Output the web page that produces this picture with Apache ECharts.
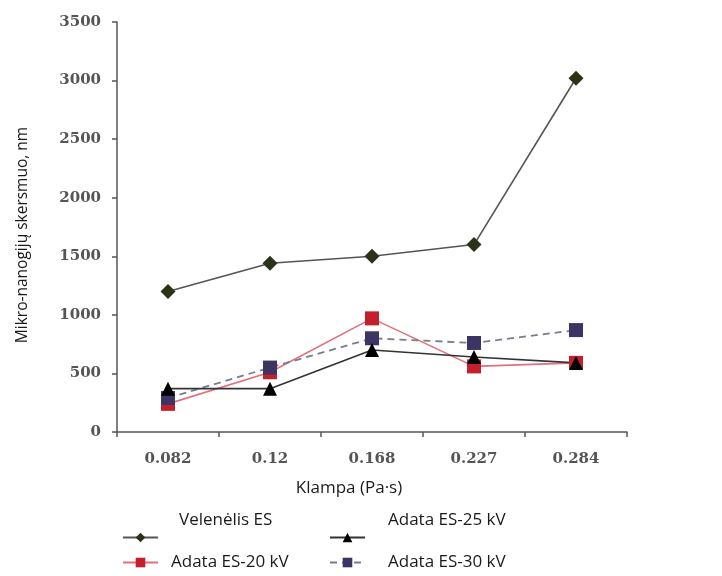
<!DOCTYPE html>
<html>
<head>
<meta charset="utf-8">
<script src="https://cdn.jsdelivr.net/npm/echarts@6/dist/echarts.min.js"></script>
<style>html,body{margin:0;padding:0;background:#fff}#c{width:722px;height:576px}</style>
</head>
<body>
<div id="c"></div>
<script>
const categories = ['0.082', '0.12', '0.168', '0.227', '0.284'];
const velenelis = [1200, 1440, 1500, 1600, 3020];
const adata20 = [240, 510, 970, 560, 590];
const adata25 = [370, 370, 700, 640, 590];
const adata30 = [290, 550, 800, 760, 870];
const yMin = 0, yMax = 3500, yStep = 500;

const chart = echarts.init(document.getElementById('c'));
const sans = '"Open Sans", "Noto Sans", sans-serif';
const serif = '"DejaVu Serif", serif';

function leg(name, left, top, padLeft, raise) {
  return {
    data: [name], left: left, top: top, orient: 'horizontal',
    itemWidth: 35, itemHeight: 12, selectedMode: false, padding: 0,
    formatter: '{t|{name}}',
    textStyle: {
      rich: { t: { fontFamily: sans, fontSize: 17, color: '#1a1a1a', padding: [0, 0, raise, padLeft] } }
    }
  };
}

chart.setOption({
  animation: false,
  backgroundColor: '#fff',
  grid: { left: 117, right: 95, top: 22, bottom: 144, containLabel: false },
  legend: [
    leg('Velenėlis ES', 122, 512, 16, 34),
    leg('Adata ES-25 kV', 329, 512, 18, 34),
    leg('Adata ES-20 kV', 122, 554, 8, 0),
    leg('Adata ES-30 kV', 329, 554, 18, 0)
  ],
  xAxis: {
    type: 'category', data: categories, boundaryGap: true,
    name: 'Klampa (Pa·s)', nameLocation: 'middle', nameGap: 48,
    nameTextStyle: { fontFamily: sans, fontSize: 17, color: '#1a1a1a', padding: [0, 46, 0, 0] },
    axisLine: { lineStyle: { color: '#555', width: 1.5 } },
    axisTick: { show: true, inside: false, length: 5, lineStyle: { color: '#555', width: 1.5 } },
    axisLabel: { fontFamily: serif, fontWeight: 'bold', fontSize: 15, color: '#555', margin: 20 },
    splitLine: { show: false }
  },
  yAxis: {
    type: 'value', min: yMin, max: yMax, interval: yStep,
    name: 'Mikro-nanogijų skersmuo, nm', nameLocation: 'middle', nameGap: 86, nameRotate: 90,
    nameTextStyle: { fontFamily: sans, fontSize: 15.5, color: '#1a1a1a', padding: [0, 16, 0, 0] },
    axisLine: { show: true, lineStyle: { color: '#555', width: 1.5 } },
    axisTick: { show: true, length: 5, lineStyle: { color: '#555', width: 1.5 } },
    axisLabel: { fontFamily: serif, fontWeight: 'bold', fontSize: 15, color: '#555', margin: 16,
      formatter: function (v) { return String(v); } },
    splitLine: { show: false }
  },
  series: [
    {
      name: 'Velenėlis ES', type: 'line', data: velenelis,
      symbol: 'diamond', symbolSize: 15,
      lineStyle: { color: '#555', width: 1.6 },
      itemStyle: { color: '#2a3318' }
    },
    {
      name: 'Adata ES-20 kV', type: 'line', data: adata20,
      symbol: 'rect', symbolSize: 14,
      lineStyle: { color: '#e0707c', width: 1.6 },
      itemStyle: { color: '#c41f2c' }
    },
    {
      name: 'Adata ES-30 kV', type: 'line', data: adata30,
      symbol: 'rect', symbolSize: 14,
      lineStyle: { color: '#7a7c8c', width: 1.8, type: [7, 5] },
      itemStyle: { color: '#3c3462' }
    },
    {
      name: 'Adata ES-25 kV', type: 'line', data: adata25,
      symbol: 'triangle', symbolSize: 14,
      lineStyle: { color: '#333', width: 1.6 },
      itemStyle: { color: '#000' }
    }
  ]
});
</script>
</body>
</html>
